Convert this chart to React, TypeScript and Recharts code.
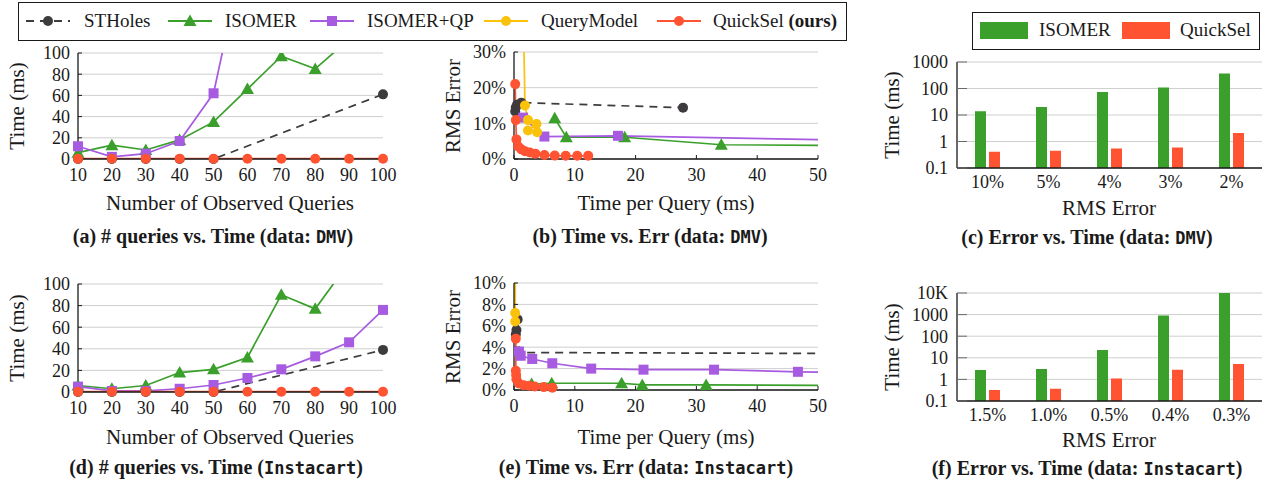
import React from "react";
import { LineChart, Line, XAxis, YAxis, CartesianGrid, BarChart, Bar } from "recharts";

// ---- data: number of observed queries vs time (ms) ----
const queryCounts = [10, 20, 30, 40, 50, 60, 70, 80, 90, 100];

const dmvSTHolesTime = [0, 0, 0, 0, 0, null, null, null, null, 61];
const dmvIsomerTime = [6, 13, 8.5, 18, 35, 66, 97, 85, 113, null];
const dmvIsomerQPTime = [12, 2, 5, 17, 62, 210, null, null, null, null];
const dmvQuickSelTime = [0.3, 0.3, 0.3, 0.3, 0.3, 0.3, 0.3, 0.3, 0.3, 0.3];

const instSTHolesTime = [0, 0, 0, 0, 0, null, null, null, null, 39];
const instIsomerTime = [6, 3, 6, 18, 21, 32, 90, 77, 120, null];
const instIsomerQPTime = [5, 1, 1, 3, 6.5, 13, 21, 33, 46, 76];
const instQuickSelTime = [0.3, 0.3, 0.3, 0.3, 0.3, 0.3, 0.3, 0.3, 0.3, 0.3];

// ---- data: time per query (ms) vs RMS error (%) ----
const dmvSTHolesErr = [[0.2, 13.3], [0.3, 14.5], [0.5, 15.2], [1.2, 15.8], [27.8, 14.4]];
const dmvIsomerErr = [[6.7, 11.4], [8.6, 6.1], [18.2, 6.1], [34.1, 4.0], [60, 3.7]];
const dmvIsomerQPErr = [[1.5, 11.6], [5.0, 6.3], [17.1, 6.5], [60, 5.1]];
const dmvQueryModelErr = [[1.5, 45], [1.8, 15], [2.3, 10.9], [3.7, 9.8], [2.3, 8.0], [3.8, 7.5]];
const dmvQuickSelErr = [[0.2, 21], [0.3, 10.9], [0.4, 5.5], [0.7, 3.5], [1.2, 2.7], [1.8, 2.2], [2.6, 1.8], [3.5, 1.5], [5.0, 1.1], [6.7, 0.95], [8.5, 0.9], [10.4, 0.9], [12.2, 0.9]];

const instSTHolesErr = [[0.3, 5.2], [0.4, 5.6], [0.6, 6.6], [0.9, 3.5], [60, 3.4]];
const instIsomerErr = [[2.9, 0.56], [6.2, 0.63], [17.7, 0.63], [21.1, 0.47], [31.6, 0.47], [60, 0.4]];
const instIsomerQPErr = [[0.8, 3.6], [1.1, 3.2], [3.0, 2.9], [6.3, 2.5], [12.7, 2.0], [21.3, 1.9], [32.9, 1.9], [46.7, 1.7], [60, 1.6]];
const instQueryModelErr = [[0.25, 20], [0.2, 7.2], [0.2, 6.4]];
const instQuickSelErr = [[0.3, 4.8], [0.3, 1.8], [0.35, 1.4], [0.4, 1.0], [0.8, 0.6], [1.6, 0.45], [2.5, 0.4], [3.4, 0.33], [4.9, 0.27], [6.3, 0.22]];

// ---- data: RMS error level vs time (ms), bars ----
const dmvErrLevels = ["10%", "5%", "4%", "3%", "2%"];
const dmvIsomerBarTime = [14, 20, 73, 110, 367];
const dmvQuickSelBarTime = [0.41, 0.45, 0.55, 0.6, 2.1];

const instErrLevels = ["1.5%", "1.0%", "0.5%", "0.4%", "0.3%"];
const instIsomerBarTime = [2.7, 3.0, 23, 910, 15500];
const instQuickSelBarTime = [0.32, 0.37, 1.1, 2.8, 5.2];

const SERIF = "'Liberation Serif', 'DejaVu Serif', serif";
const MONO = "'DejaVu Sans Mono', 'Liberation Mono', monospace";
const STH = "#3e3b3e";
const ISO = "#3aa02b";
const QP = "#a65be0";
const QM = "#fbc20c";
const QS = "#ff5331";
const INK = "#1a1a1a";
const GRID = "#cfcfcf";
const TICK = 18;

type Box = { x: number; y: number; w: number; h: number; L: number; T: number; R: number; B: number };

const ok = (p: any) => Number.isFinite(p.cx) && Number.isFinite(p.cy) && p.value != null;
// circle markers as plain dot objects so they are not cut at the plot edge
const circleDot = (c: string) => ({ r: 5, fill: c, stroke: "none", strokeWidth: 0, clipDot: false });
const triDot = (c: string) => (p: any) =>
  ok(p) ? (
    <path key={`t${p.index}`} d={`M${p.cx},${p.cy - 6.5}L${p.cx + 6.5},${p.cy + 5}L${p.cx - 6.5},${p.cy + 5}Z`} fill={c} />
  ) : (
    <g key={`t${p.index}`} />
  );
const sqDot = (c: string) => (p: any) =>
  ok(p) ? <rect key={`s${p.index}`} x={p.cx - 5} y={p.cy - 5} width={10} height={10} fill={c} /> : <g key={`s${p.index}`} />;

function layout(b: Box) {
  return {
    style: { position: "absolute" as const, left: b.x, top: b.y },
    margin: { top: b.T - b.y, right: b.x + b.w - b.R, bottom: 0, left: 0 },
    yw: b.L - b.x,
    xh: b.y + b.h - b.B,
  };
}

const tickStyle = { fill: INK, fontSize: TICK, fontFamily: SERIF };
const axisLine = { stroke: INK, strokeWidth: 1.3 };

function TimePanel({ box, sth, iso, qp, qs }: { box: Box; sth: any[]; iso: any[]; qp: any[]; qs: any[] }) {
  const l = layout(box);
  const rows = queryCounts.map((q, i) => ({ q, sth: sth[i], iso: iso[i], qp: qp[i], qs: qs[i] }));
  const yTicks = [0, 20, 40, 60, 80, 100];
  return (
    <div style={l.style}>
      <LineChart width={box.w} height={box.h} data={rows} margin={l.margin}>
        <CartesianGrid vertical={false} stroke={GRID} />
        <XAxis dataKey="q" type="number" domain={[10, 100]} ticks={queryCounts} interval={0} height={l.xh}
          tickSize={-4} tickMargin={13} axisLine={axisLine} tickLine={{ stroke: INK }} tick={tickStyle} />
        <XAxis xAxisId="top" orientation="top" dataKey="q" type="number" domain={[10, 100]} ticks={queryCounts}
          height={0} tickSize={-4} tick={false} axisLine={axisLine} tickLine={{ stroke: INK }} />
        <YAxis type="number" domain={[0, 100]} ticks={yTicks} interval={0} allowDataOverflow width={l.yw}
          tickSize={-4} tickMargin={12} axisLine={axisLine} tickLine={{ stroke: INK }} tick={tickStyle} />
        <YAxis yAxisId="right" orientation="right" type="number" domain={[0, 100]} ticks={yTicks} width={0}
          tickSize={-4} tick={false} axisLine={axisLine} tickLine={{ stroke: INK }} />
        <Line dataKey="sth" stroke={STH} strokeWidth={1.7} strokeDasharray="8 6" connectNulls dot={circleDot(STH)} activeDot={false} isAnimationActive={false} />
        <Line dataKey="iso" stroke={ISO} strokeWidth={1.7} dot={triDot(ISO)} activeDot={false} isAnimationActive={false} />
        <Line dataKey="qp" stroke={QP} strokeWidth={1.7} dot={sqDot(QP)} activeDot={false} isAnimationActive={false} />
        <Line dataKey="qs" stroke={QS} strokeWidth={1.7} dot={circleDot(QS)} activeDot={false} isAnimationActive={false} />
      </LineChart>
    </div>
  );
}

const pts = (a: number[][]) => a.map(([t, e]) => ({ t, e }));

function ErrPanel({ box, yMax, yTicks, sth, iso, qp, qm, qs }: { box: Box; yMax: number; yTicks: number[]; sth: number[][]; iso: number[][]; qp: number[][]; qm: number[][]; qs: number[][] }) {
  const l = layout(box);
  const xTicks = [0, 10, 20, 30, 40, 50];
  return (
    <div style={l.style}>
      <LineChart width={box.w} height={box.h} margin={l.margin}>
        <CartesianGrid vertical={false} stroke={GRID} />
        <XAxis dataKey="t" type="number" domain={[0, 50]} ticks={xTicks} interval={0} allowDataOverflow height={l.xh}
          tickSize={-4} tickMargin={13} axisLine={axisLine} tickLine={{ stroke: INK }} tick={tickStyle} />
        <XAxis xAxisId="top" orientation="top" dataKey="t" type="number" domain={[0, 50]} ticks={xTicks} allowDataOverflow
          height={0} tickSize={-4} tick={false} axisLine={axisLine} tickLine={{ stroke: INK }} />
        <YAxis type="number" domain={[0, yMax]} ticks={yTicks} interval={0} allowDataOverflow width={l.yw}
          tickSize={-4} tickMargin={12} tickFormatter={(v: number) => `${v}%`} axisLine={axisLine} tickLine={{ stroke: INK }} tick={tickStyle} />
        <YAxis yAxisId="right" orientation="right" type="number" domain={[0, yMax]} ticks={yTicks} allowDataOverflow width={0}
          tickSize={-4} tick={false} axisLine={axisLine} tickLine={{ stroke: INK }} />
        <Line data={pts(sth)} dataKey="e" stroke={STH} strokeWidth={1.7} strokeDasharray="8 6" dot={circleDot(STH)} activeDot={false} isAnimationActive={false} />
        <Line data={pts(iso)} dataKey="e" stroke={ISO} strokeWidth={1.7} dot={triDot(ISO)} activeDot={false} isAnimationActive={false} />
        <Line data={pts(qp)} dataKey="e" stroke={QP} strokeWidth={1.7} dot={sqDot(QP)} activeDot={false} isAnimationActive={false} />
        <Line data={pts(qm)} dataKey="e" stroke={QM} strokeWidth={1.7} dot={circleDot(QM)} activeDot={false} isAnimationActive={false} />
        <Line data={pts(qs)} dataKey="e" stroke={QS} strokeWidth={1.7} dot={circleDot(QS)} activeDot={false} isAnimationActive={false} />
      </LineChart>
    </div>
  );
}

function BarPanel({ box, levels, iso, qs, yMax }: { box: Box; levels: string[]; iso: number[]; qs: number[]; yMax: number }) {
  const l = layout(box);
  const rows = levels.map((lv, i) => ({ lv, iso: iso[i], qs: qs[i] }));
  const majors: number[] = [];
  const minors: number[] = [];
  for (let d = 0.1; d < yMax * 0.99; d *= 10) {
    majors.push(Number(d.toPrecision(1)));
    for (let k = 2; k <= 9; k++) minors.push(Number((d * k).toPrecision(2)));
  }
  majors.push(yMax);
  const fmt = (v: number) => (v >= 10000 ? `${v / 1000}K` : `${v}`);
  const minorLine = { stroke: "#9a9a9a" };
  const majorLine = { stroke: "#6a6a6a" };
  return (
    <div style={l.style}>
      <BarChart width={box.w} height={box.h} data={rows} margin={l.margin} barSize={11} barGap={3}>
        <CartesianGrid vertical={false} stroke={GRID} />
        <XAxis dataKey="lv" height={l.xh} tickLine={false} tickSize={0} tickMargin={7} axisLine={axisLine} tick={tickStyle} interval={0} />
        <XAxis xAxisId="top" orientation="top" dataKey="lv" height={0} tickLine={false} tick={false} axisLine={axisLine} />
        <YAxis scale="log" type="number" domain={[0.1, yMax]} ticks={majors} interval={0} allowDataOverflow width={l.yw}
          tickSize={-10} tickMargin={19} tickFormatter={fmt} axisLine={axisLine} tickLine={majorLine} tick={tickStyle} />
        <YAxis yAxisId="minL" scale="log" type="number" domain={[0.1, yMax]} ticks={minors} interval={0} allowDataOverflow width={0}
          tickSize={-7} tick={false} axisLine={false} tickLine={minorLine} />
        <YAxis yAxisId="majR" orientation="right" scale="log" type="number" domain={[0.1, yMax]} ticks={majors} interval={0} allowDataOverflow width={0}
          tickSize={-10} tick={false} axisLine={axisLine} tickLine={majorLine} />
        <YAxis yAxisId="minR" orientation="right" scale="log" type="number" domain={[0.1, yMax]} ticks={minors} interval={0} allowDataOverflow width={0}
          tickSize={-7} tick={false} axisLine={false} tickLine={minorLine} />
        <Bar dataKey="iso" fill={ISO} isAnimationActive={false} />
        <Bar dataKey="qs" fill={QS} isAnimationActive={false} />
      </BarChart>
    </div>
  );
}

const abs = (x: number, y: number, extra: React.CSSProperties = {}): React.CSSProperties => ({
  position: "absolute",
  left: x,
  top: y,
  transform: "translate(-50%, -50%)",
  whiteSpace: "nowrap",
  fontFamily: SERIF,
  color: INK,
  ...extra,
});

const Title = ({ x, y, children, rot }: { x: number; y: number; children: React.ReactNode; rot?: boolean }) => (
  <div style={abs(x, y, { fontSize: 21, transform: `translate(-50%, -50%)${rot ? " rotate(-90deg)" : ""}` })}>{children}</div>
);

const Caption = ({ x, y, label, data }: { x: number; y: number; label: string; data: string }) => (
  <div style={abs(x, y, { fontSize: 20, fontWeight: 700 })}>
    {label}
    <span style={{ fontFamily: MONO, fontSize: 17 }}>{data}</span>)
  </div>
);

function LegendIcon({ color, dashed, marker }: { color: string; dashed?: boolean; marker: string }) {
  return (
    <svg width={46} height={16} style={{ display: "block" }}>
      <line x1={1} y1={8} x2={45} y2={8} stroke={color} strokeWidth={2} strokeDasharray={dashed ? "8 6" : undefined} />
      {marker === "circle" && <circle cx={23} cy={8} r={5} fill={color} />}
      {marker === "tri" && <path d="M23,1.5L29.5,13L16.5,13Z" fill={color} />}
      {marker === "sq" && <rect x={18} y={3} width={10} height={10} fill={color} />}
    </svg>
  );
}

const legendItems = [
  { x: 25, tx: 84, color: STH, dashed: true, marker: "circle", label: "STHoles" },
  { x: 167, tx: 225, color: ISO, marker: "tri", label: "ISOMER" },
  { x: 309, tx: 367, color: QP, marker: "sq", label: "ISOMER+QP" },
  { x: 483, tx: 541, color: QM, marker: "circle", label: "QueryModel" },
  { x: 656, tx: 713, color: QS, marker: "circle", label: "QuickSel" },
];

export default function App() {
  const boxA: Box = { x: 0, y: 40, w: 400, h: 160, L: 78, T: 53, R: 383, B: 159 };
  const boxB: Box = { x: 420, y: 40, w: 420, h: 160, L: 514, T: 52, R: 818, B: 159 };
  const boxC: Box = { x: 860, y: 44, w: 407, h: 151, L: 957, T: 62, R: 1262, B: 168 };
  const boxD: Box = { x: 0, y: 270, w: 400, h: 160, L: 78, T: 284, R: 383, B: 392 };
  const boxE: Box = { x: 420, y: 270, w: 420, h: 160, L: 514, T: 283, R: 818, B: 390 };
  const boxF: Box = { x: 860, y: 275, w: 407, h: 150, L: 957, T: 293, R: 1262, B: 401 };
  return (
    <div style={{ position: "relative", width: 1267, height: 485, background: "#fff", overflow: "hidden", fontFamily: SERIF }}>
      <style>{"body{margin:0}"}</style>

      <div style={{ position: "absolute", left: 18, top: 2, width: 829, height: 39, border: `1.4px solid ${INK}`, boxSizing: "border-box" }} />
      {legendItems.map((it) => (
        <React.Fragment key={it.label}>
          <div style={{ position: "absolute", left: it.x, top: 13 }}>
            <LegendIcon color={it.color} dashed={it.dashed} marker={it.marker} />
          </div>
          <div style={{ position: "absolute", left: it.tx, top: 21, transform: "translateY(-50%)", fontSize: 19, whiteSpace: "nowrap", color: INK }}>
            {it.label}
            {it.label === "QuickSel" && <b> (ours)</b>}
          </div>
        </React.Fragment>
      ))}

      <TimePanel box={boxA} sth={dmvSTHolesTime} iso={dmvIsomerTime} qp={dmvIsomerQPTime} qs={dmvQuickSelTime} />
      <ErrPanel box={boxB} yMax={30} yTicks={[0, 10, 20, 30]} sth={dmvSTHolesErr} iso={dmvIsomerErr} qp={dmvIsomerQPErr} qm={dmvQueryModelErr} qs={dmvQuickSelErr} />
      <BarPanel box={boxC} levels={dmvErrLevels} iso={dmvIsomerBarTime} qs={dmvQuickSelBarTime} yMax={1000} />
      <TimePanel box={boxD} sth={instSTHolesTime} iso={instIsomerTime} qp={instIsomerQPTime} qs={instQuickSelTime} />
      <ErrPanel box={boxE} yMax={10} yTicks={[0, 2, 4, 6, 8, 10]} sth={instSTHolesErr} iso={instIsomerErr} qp={instIsomerQPErr} qm={instQueryModelErr} qs={instQuickSelErr} />
      <BarPanel box={boxF} levels={instErrLevels} iso={instIsomerBarTime} qs={instQuickSelBarTime} yMax={10000} />

      <div style={{ position: "absolute", left: 972, top: 12, width: 288, height: 38, border: `1.4px solid ${INK}`, boxSizing: "border-box", background: "#fff" }} />
      <div style={{ position: "absolute", left: 980, top: 22, width: 48, height: 17, background: ISO }} />
      <div style={{ position: "absolute", left: 1039, top: 30, transform: "translateY(-50%)", fontSize: 19, color: INK }}>ISOMER</div>
      <div style={{ position: "absolute", left: 1122, top: 22, width: 48, height: 17, background: QS }} />
      <div style={{ position: "absolute", left: 1180, top: 30, transform: "translateY(-50%)", fontSize: 19, color: INK }}>QuickSel</div>

      <Title x={17} y={106} rot>Time (ms)</Title>
      <Title x={230} y={203}>Number of Observed Queries</Title>
      <Caption x={213} y={236} label="(a) # queries vs. Time (data: " data="DMV" />
      <Title x={453} y={106} rot>RMS Error</Title>
      <Title x={666} y={203}>Time per Query (ms)</Title>
      <Caption x={650} y={236} label="(b) Time vs. Err (data: " data="DMV" />
      <Title x={892} y={115} rot>Time (ms)</Title>
      <Title x={1109} y={208}>RMS Error</Title>
      <Caption x={1087} y={237} label="(c) Error vs. Time (data: " data="DMV" />

      <Title x={17} y={338} rot>Time (ms)</Title>
      <Title x={230} y={437}>Number of Observed Queries</Title>
      <Caption x={216} y={467} label="(d) # queries vs. Time (" data="Instacart" />
      <Title x={453} y={337} rot>RMS Error</Title>
      <Title x={666} y={437}>Time per Query (ms)</Title>
      <Caption x={646} y={467} label="(e) Time vs. Err (data: " data="Instacart" />
      <Title x={892} y={347} rot>Time (ms)</Title>
      <Title x={1109} y={440}>RMS Error</Title>
      <Caption x={1087} y={468} label="(f) Error vs. Time (data: " data="Instacart" />
    </div>
  );
}
